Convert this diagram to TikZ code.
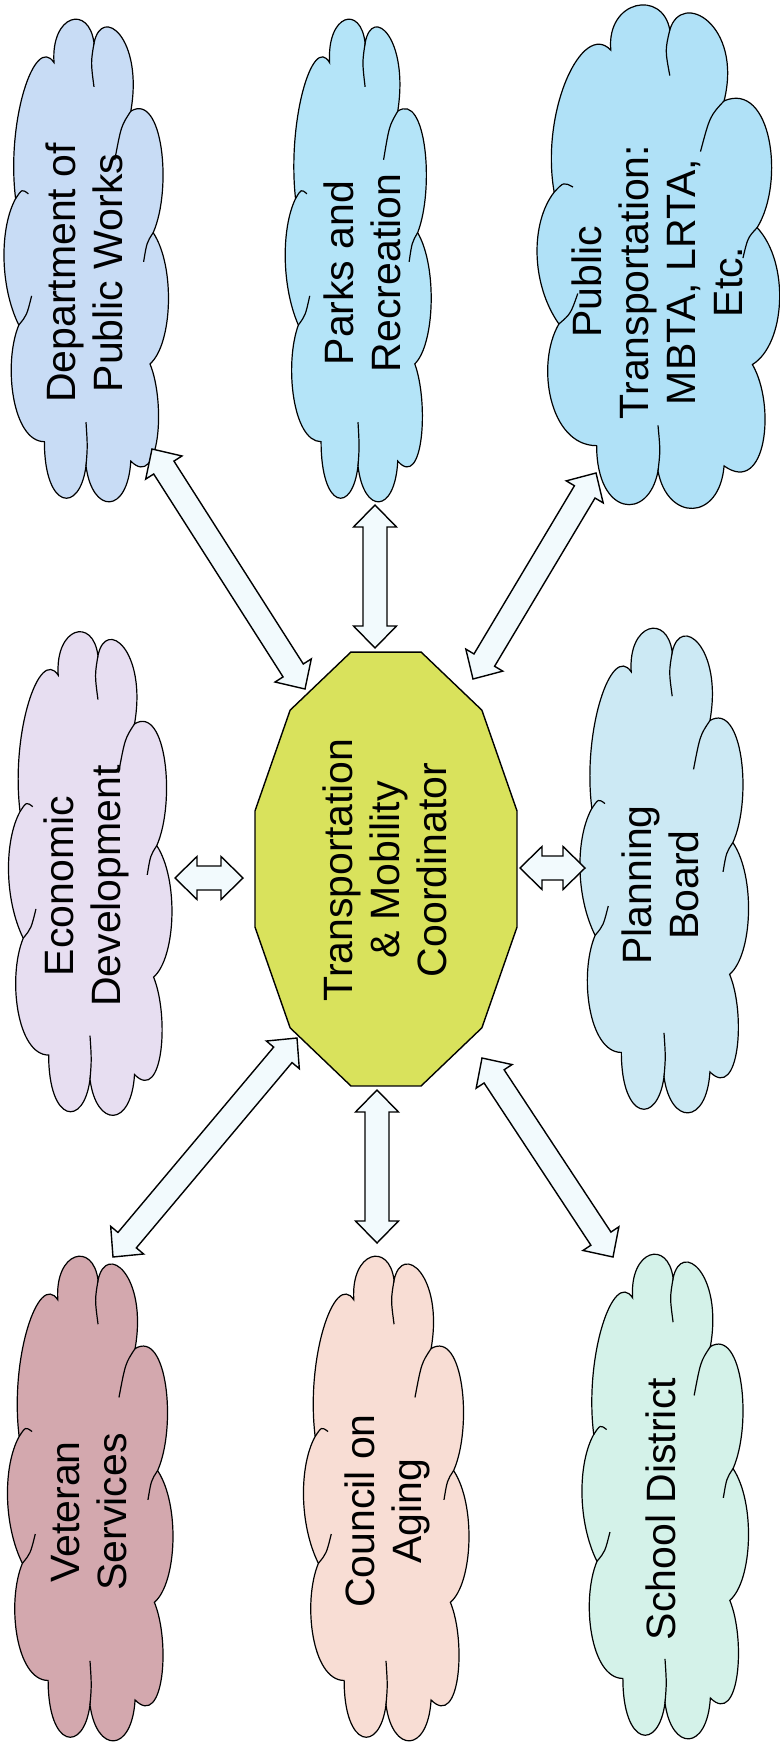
\documentclass[tikz,border=0pt]{standalone}
\usepackage{fontspec}
\setmainfont{Liberation Sans}
\usepackage{tikz}
\usetikzlibrary{calc}
\definecolor{custom_works}{HTML}{C8DCF5}
\definecolor{custom_parks}{HTML}{B4E4F8}
\definecolor{custom_transit}{HTML}{B0E1F7}
\definecolor{custom_econ}{HTML}{E7DEF1}
\definecolor{custom_plan}{HTML}{CCE9F4}
\definecolor{custom_vet}{HTML}{D3A8AE}
\definecolor{custom_aging}{HTML}{F8DDD4}
\definecolor{custom_school}{HTML}{D4F2E9}
\definecolor{custom_yellow}{HTML}{D9E25C}
\definecolor{custom_arrow}{HTML}{F2FAFD}

% cloud outline in a unit box: #1 colour, #2 centre, #3 width, #4 height
\newcommand{\drawcloud}[4]{%
  \begin{scope}[shift={(#2)}, xscale=#3, yscale=#4, shift={(-0.5,-0.5)}, line width=0.6pt]
    \filldraw[fill=#1] (0.30,0.10)
      .. controls (0.28,0.00) and (0.52,-0.02) .. (0.55,0.06)
      .. controls (0.60,-0.02) and (0.86,0.05) .. (0.78,0.20)
      .. controls (0.98,0.16) and (1.04,0.36) .. (0.92,0.45)
      .. controls (1.06,0.52) and (1.04,0.68) .. (0.90,0.72)
      .. controls (1.00,0.80) and (0.96,0.98) .. (0.78,0.92)
      .. controls (0.76,1.03) and (0.54,1.03) .. (0.50,0.93)
      .. controls (0.46,1.03) and (0.24,1.02) .. (0.24,0.88)
      .. controls (0.04,0.88) and (-0.02,0.72) .. (0.08,0.64)
      .. controls (-0.04,0.56) and (-0.04,0.44) .. (0.06,0.38)
      .. controls (0.00,0.22) and (0.18,0.04) .. (0.30,0.10) -- cycle;
    \draw (0.55,0.06) .. controls (0.53,0.10) .. (0.55,0.15);
    \draw (0.78,0.20) .. controls (0.72,0.23) .. (0.68,0.30);
    \draw (0.92,0.45) .. controls (0.88,0.47) .. (0.86,0.51);
    \draw (0.50,0.93) .. controls (0.51,0.89) .. (0.50,0.84);
    \draw (0.08,0.64) .. controls (0.13,0.62) .. (0.16,0.58);
    \draw (0.06,0.38) .. controls (0.10,0.36) .. (0.14,0.37);
  \end{scope}}

\begin{document}
\begin{tikzpicture}[x=0.5pt, y=-0.5pt,
    lbl/.style={rotate=90, align=center, inner sep=0pt,
      font=\fontsize{20.5}{23.5}\selectfont},
    biarrow/.style={draw=black, fill=custom_arrow, line width=0.7pt,
      to path={(\tikztostart) coordinate (ba) (\tikztotarget) coordinate (bb)
        (ba) -- ($(ba)!11pt!(bb)!10.75pt!90:(bb)$)
        -- ($(ba)!11pt!(bb)!6pt!90:(bb)$)
        -- ($(bb)!11pt!(ba)!6pt!-90:(ba)$)
        -- ($(bb)!11pt!(ba)!10.75pt!-90:(ba)$)
        -- (bb)
        -- ($(bb)!11pt!(ba)!10.75pt!90:(ba)$)
        -- ($(bb)!11pt!(ba)!6pt!90:(ba)$)
        -- ($(ba)!11pt!(bb)!6pt!-90:(bb)$)
        -- ($(ba)!11pt!(bb)!10.75pt!-90:(bb)$)
        -- cycle}}]

      \useasboundingbox (0,0) rectangle (780,1748);

      \coordinate (dpw) at (86,257);
      \coordinate (prk) at (358,257);
      \coordinate (ptr) at (658,253);
      \coordinate (eco) at (90,870);
      \coordinate (pln) at (664,867);
      \coordinate (vet) at (90,1495);
      \coordinate (coa) at (386,1495);
      \coordinate (sch) at (665,1493);

      % top row
      \drawcloud{custom_works}{dpw}{160}{486}
      \node[lbl] (dpw_txt) at (84,273) {Department of\\Public Works};
      \drawcloud{custom_parks}{prk}{142}{486}
      \node[lbl] (prk_txt) at (362,273) {Parks and\\Recreation};
      \drawcloud{custom_transit}{ptr}{236}{507}
      \node[lbl] (ptr_txt) at (657,282) {Public\\Transportation:\\MBTA, LRTA,\\Etc.};

      % middle row
      \drawcloud{custom_econ}{eco}{159}{487}
      \node[lbl] (eco_txt) at (86,886) {Economic\\Development};
      \drawcloud{custom_plan}{pln}{164}{488}
      \node[lbl] (pln_txt) at (660,885) {Planning\\Board};

      \filldraw[fill=custom_yellow, line width=0.7pt, shift={(386,869)}]
        (15:135.6 and 224.6) \foreach \a in {45,75,...,345} { -- (\a:135.6 and 224.6) } -- cycle;
      \node[lbl] (ctr) at (385,870) {Transportation\\\& Mobility\\Coordinator};

      % bottom row
      \drawcloud{custom_vet}{vet}{161}{488}
      \node[lbl] (vet_txt) at (89,1512) {Veteran\\Services};
      \drawcloud{custom_aging}{coa}{161}{488}
      \node[lbl] (coa_txt) at (387,1511) {Council on\\Aging};
      \drawcloud{custom_school}{sch}{162}{488}
      \node[lbl] (sch_txt) at (661,1509) {School District};

      \draw[biarrow] ($(dpw)+(66,192)$) to ($(ctr)+(-80,-181)$);
      \draw[biarrow] ($(prk)+(17,248)$) to ($(ctr)+(-10,-222)$);
      \draw[biarrow] ($(ptr)+(-62,220)$) to ($(ctr)+(88,-191)$);
      \draw[biarrow] ($(eco)+(85,8)$) to ($(ctr)+(-142,8)$);
      \draw[biarrow] ($(pln)+(-79,1)$) to ($(ctr)+(135,-2)$);
      \draw[biarrow] ($(vet)+(23,-238)$) to ($(ctr)+(-88,168)$);
      \draw[biarrow] ($(coa)+(-9,-252)$) to ($(ctr)+(-8,220)$);
      \draw[biarrow] ($(sch)+(-52,-236)$) to ($(ctr)+(97,188)$);

    \end{tikzpicture}
\end{document}
